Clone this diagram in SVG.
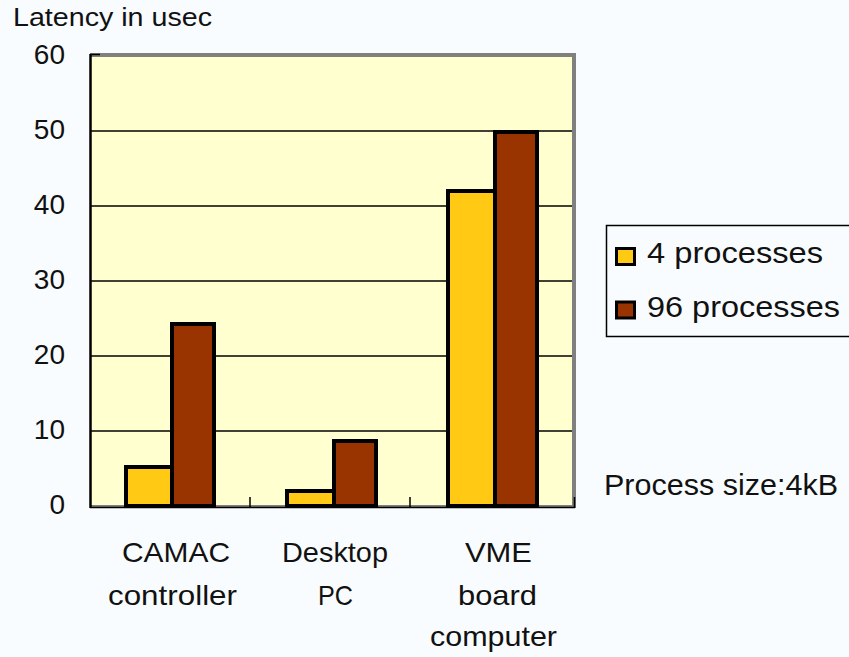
<svg xmlns="http://www.w3.org/2000/svg" width="849" height="657" viewBox="0 0 849 657">
<style>
text{font-family:"Liberation Sans",Arial,sans-serif;fill:#111}
.yl{font-size:28px;text-anchor:end}
.cl{font-size:28px}
.lg{font-size:29px}
.grid{stroke:#000;stroke-width:1.5}
.bar{stroke:#000;stroke-width:4}
.y4{fill:#ffc914}
.y96{fill:#993300}
</style>
<rect x="0" y="0" width="849" height="657" fill="#f9fcfe"/>
<g id="plot">
<rect x="91" y="57" width="481" height="449" fill="#ffffd0"/>
<rect x="90" y="53" width="486" height="4" fill="#808080"/>
<rect x="572" y="53" width="4" height="455" fill="#808080"/>
<g class="grid">
<line x1="91" y1="131" x2="572" y2="131"/>
<line x1="91" y1="206" x2="572" y2="206"/>
<line x1="91" y1="281" x2="572" y2="281"/>
<line x1="91" y1="356" x2="572" y2="356"/>
<line x1="91" y1="431" x2="572" y2="431"/>
</g>
<rect x="90" y="505" width="486" height="2" fill="#808080"/>
<line x1="90" y1="507.5" x2="575" y2="507.5" stroke="#000" stroke-width="1.5"/>
<line x1="90.5" y1="54" x2="90.5" y2="508" stroke="#000" stroke-width="2.5"/>
<line x1="90" y1="54.5" x2="100" y2="54.5" stroke="#000" stroke-width="1.5"/>
<line x1="250" y1="497" x2="250" y2="507" stroke="#000" stroke-width="1.5"/>
<line x1="410" y1="497" x2="410" y2="507" stroke="#000" stroke-width="1.5"/>
<line x1="574.5" y1="497" x2="574.5" y2="508" stroke="#000" stroke-width="1.5"/>
</g>
<g id="axis-labels">
<text x="13" y="26" font-size="25" textLength="199" lengthAdjust="spacingAndGlyphs">Latency in usec</text>
<text class="yl" x="65" y="64">60</text>
<text class="yl" x="65" y="139">50</text>
<text class="yl" x="65" y="214">40</text>
<text class="yl" x="65" y="289">30</text>
<text class="yl" x="65" y="364">20</text>
<text class="yl" x="65" y="439">10</text>
<text class="yl" x="65" y="514">0</text>
</g>
<g id="camac">
<rect class="bar y4" x="126" y="467" width="46" height="39"/>
<rect class="bar y96" x="172" y="324" width="42" height="182"/>
<text class="cl" x="122" y="562" textLength="108" lengthAdjust="spacingAndGlyphs">CAMAC</text>
<text class="cl" x="108" y="605" textLength="129" lengthAdjust="spacingAndGlyphs">controller</text>
</g>
<g id="desktop">
<rect class="bar y4" x="287" y="491" width="47" height="15"/>
<rect class="bar y96" x="334" y="441" width="42" height="65"/>
<text class="cl" x="282" y="562" textLength="106" lengthAdjust="spacingAndGlyphs">Desktop</text>
<text class="cl" x="318" y="605" textLength="35" lengthAdjust="spacingAndGlyphs">PC</text>
</g>
<g id="vme">
<rect class="bar y4" x="448" y="191" width="47" height="315"/>
<rect class="bar y96" x="495" y="132" width="42" height="374"/>
<text class="cl" x="465" y="562" textLength="67" lengthAdjust="spacingAndGlyphs">VME</text>
<text class="cl" x="458" y="605" textLength="79" lengthAdjust="spacingAndGlyphs">board</text>
<text class="cl" x="430" y="646" textLength="127" lengthAdjust="spacingAndGlyphs">computer</text>
</g>
<g id="legend">
<path d="M849 225.5 H606.5 V336.5 H849" fill="none" stroke="#000" stroke-width="1.5"/>
<rect class="y4" x="616.5" y="248.5" width="18" height="16" stroke="#000" stroke-width="3"/>
<rect class="y96" x="616.5" y="302" width="18" height="16" stroke="#000" stroke-width="3"/>
<text class="lg" x="647" y="263" textLength="176" lengthAdjust="spacingAndGlyphs">4 processes</text>
<text class="lg" x="647" y="317" textLength="193" lengthAdjust="spacingAndGlyphs">96 processes</text>
</g>
<g id="note">
<text x="604" y="495" font-size="30" textLength="234" lengthAdjust="spacingAndGlyphs">Process size:4kB</text>
</g>
</svg>
